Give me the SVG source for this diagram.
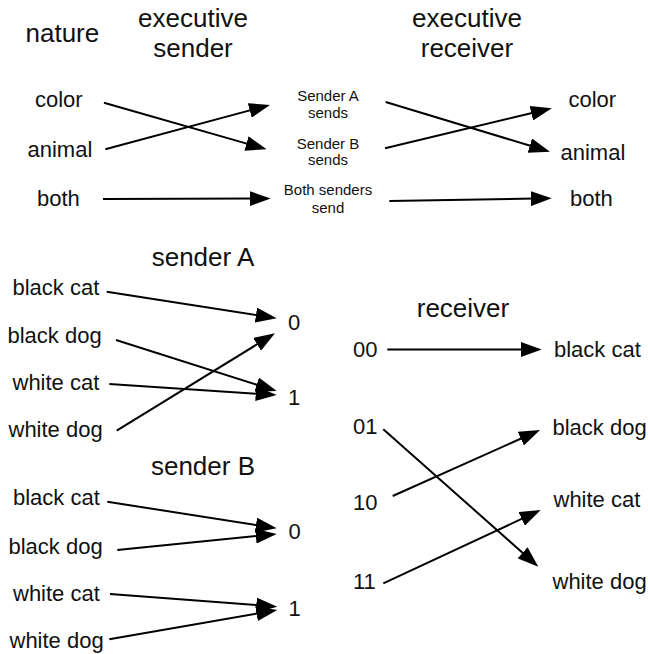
<svg xmlns="http://www.w3.org/2000/svg" width="648" height="654" viewBox="0 0 648 654">
<style>
text{font-family:"Liberation Sans",Arial,Helvetica,sans-serif;fill:#111}
.t{font-size:26px}
.l{font-size:22px}
.s{font-size:15px;text-anchor:middle}
.m{text-anchor:middle}
#connectors line{stroke:#000;stroke-width:2;fill:none;marker-end:url(#ah)}
</style>
<defs>
<marker id="ah" markerUnits="userSpaceOnUse" markerWidth="21" markerHeight="15" refX="4" refY="7.5" orient="auto" viewBox="0 0 21 15">
<path d="M0,0 L21,7.5 L0,15 z" fill="#000"/>
</marker>
</defs>
<rect width="648" height="654" fill="#fff"/>
<g id="titles">
<text class="t" x="25.5" y="42">nature</text>
<text class="t m" x="193" y="27">executive</text>
<text class="t m" x="193" y="57">sender</text>
<text class="t m" x="467" y="27">executive</text>
<text class="t m" x="467" y="57">receiver</text>
<text class="t m" x="203" y="266">sender A</text>
<text class="t m" x="203" y="475">sender B</text>
<text class="t m" x="463" y="317">receiver</text>
</g>
<g id="nature-color"><text class="l" x="35" y="106.5">color</text></g>
<g id="nature-animal"><text class="l" x="27.5" y="156.5">animal</text></g>
<g id="nature-both"><text class="l" x="37" y="206">both</text></g>
<g id="sender-a-sends"><text class="s" x="328" y="100.5">Sender A</text><text class="s" x="328" y="117.5">sends</text></g>
<g id="sender-b-sends"><text class="s" x="328" y="148.5">Sender B</text><text class="s" x="328" y="165">sends</text></g>
<g id="both-send"><text class="s" x="328" y="195">Both senders</text><text class="s" x="328" y="212.5">send</text></g>
<g id="recv-color"><text class="l" x="568.5" y="106.5">color</text></g>
<g id="recv-animal"><text class="l" x="560.5" y="160">animal</text></g>
<g id="recv-both"><text class="l" x="570" y="206">both</text></g>
<g id="a-black-cat"><text class="l" x="12.5" y="295">black cat</text></g>
<g id="a-black-dog"><text class="l" x="7.5" y="343">black dog</text></g>
<g id="a-white-cat"><text class="l" x="12.5" y="389.5">white cat</text></g>
<g id="a-white-dog"><text class="l" x="8.5" y="436.5">white dog</text></g>
<g id="a-0"><text class="l" x="288" y="329.5">0</text></g>
<g id="a-1"><text class="l" x="288" y="405">1</text></g>
<g id="b-black-cat"><text class="l" x="13" y="505">black cat</text></g>
<g id="b-black-dog"><text class="l" x="8.5" y="553.5">black dog</text></g>
<g id="b-white-cat"><text class="l" x="13" y="600.5">white cat</text></g>
<g id="b-white-dog"><text class="l" x="9.5" y="648">white dog</text></g>
<g id="b-0"><text class="l" x="288.5" y="538.5">0</text></g>
<g id="b-1"><text class="l" x="288.5" y="616">1</text></g>
<g id="r-00"><text class="l" x="353" y="357">00</text></g>
<g id="r-01"><text class="l" x="353" y="433.5">01</text></g>
<g id="r-10"><text class="l" x="353" y="510">10</text></g>
<g id="r-11"><text class="l" x="353" y="588.5">11</text></g>
<g id="r-black-cat"><text class="l" x="554" y="357">black cat</text></g>
<g id="r-black-dog"><text class="l" x="552.5" y="435">black dog</text></g>
<g id="r-white-cat"><text class="l" x="553.5" y="506.5">white cat</text></g>
<g id="r-white-dog"><text class="l" x="552.5" y="588.5">white dog</text></g>
<g id="connectors">
<line x1="104" y1="102.7" x2="250.3" y2="144.6"/>
<line x1="105.3" y1="149.3" x2="253.6" y2="109.4"/>
<line x1="103" y1="199" x2="253.7" y2="198.6"/>
<line x1="385.7" y1="102" x2="533.7" y2="146.8"/>
<line x1="385" y1="148.3" x2="535.2" y2="112.3"/>
<line x1="389.3" y1="201" x2="534.7" y2="198.6"/>
<line x1="106.7" y1="291.7" x2="259.9" y2="315.7"/>
<line x1="116" y1="340" x2="260.5" y2="385.9"/>
<line x1="109.3" y1="384" x2="259.7" y2="393.9"/>
<line x1="116.7" y1="430.7" x2="260.5" y2="342.2"/>
<line x1="107.3" y1="501.7" x2="259.9" y2="525.7"/>
<line x1="117.3" y1="550" x2="259.8" y2="535.7"/>
<line x1="110" y1="594" x2="260.3" y2="605.4"/>
<line x1="109.3" y1="639.3" x2="260.5" y2="612.9"/>
<line x1="387.3" y1="349.5" x2="524.7" y2="349.5"/>
<line x1="383.3" y1="429.3" x2="525.6" y2="555.4"/>
<line x1="392.7" y1="496" x2="524.5" y2="437"/>
<line x1="383.3" y1="583.3" x2="525.3" y2="517.2"/>
</g>
</svg>
